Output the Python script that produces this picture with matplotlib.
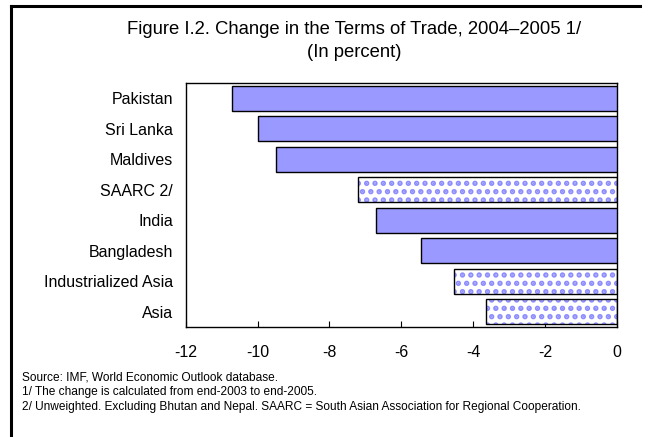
import numpy as np
import matplotlib.pyplot as plt
from matplotlib.lines import Line2D

plt.rcParams['font.family'] = ['Liberation Sans', 'DejaVu Sans']
plt.rcParams['hatch.linewidth'] = 2.6

categories = ['Pakistan', 'Sri Lanka', 'Maldives', 'SAARC 2/', 'India',
              'Bangladesh', 'Industrialized Asia', 'Asia']
values = [-10.7, -10.0, -9.5, -7.2, -6.7, -5.45, -4.55, -3.65]
aggregate = [False, False, False, True, False, False, True, True]
ticks = [-12, -10, -8, -6, -4, -2, 0]

fig = plt.figure(figsize=(6.49, 4.37), dpi=100)
ax = fig.add_axes([0.286, 0.252, 0.665, 0.558])

y = np.arange(len(categories))
for yi, v, agg in zip(y, values, aggregate):
    if agg:
        # dotted fill for aggregates
        ax.barh(yi, v, height=0.82, color='white', edgecolor='#8c8cff',
                hatch='..', linewidth=0, zorder=2)
        ax.barh(yi, v, height=0.82, color='none', edgecolor='black',
                linewidth=1.0, zorder=3)
    else:
        ax.barh(yi, v, height=0.82, color='#9999ff', edgecolor='black',
                linewidth=1.0, zorder=3)

ax.set_ylim(len(categories) - 0.5, -0.5)
ax.set_xlim(-12, 0)
ax.set_yticks(y)
ax.set_yticklabels(categories, fontsize=11.5)
ax.set_xticks(ticks)
ax.set_xticklabels([str(t) for t in ticks], fontsize=11.5)
ax.tick_params(axis='y', length=0, pad=9)
ax.tick_params(axis='x', direction='in', length=4, pad=13, width=0.8)
for s in ax.spines.values():
    s.set_linewidth(1.0)

fig.text(0.546, 0.932, 'Figure I.2. Change in the Terms of Trade, 2004\u20132005 1/',
         ha='center', va='center', fontsize=13.3)
fig.text(0.546, 0.881, '(In percent)', ha='center', va='center', fontsize=13.3)

notes = ['Source: IMF, World Economic Outlook database.',
         '1/ The change is calculated from end-2003 to end-2005.',
         '2/ Unweighted. Excluding Bhutan and Nepal. SAARC = South Asian Association for Regional Cooperation.']
for i, n in enumerate(notes):
    fig.text(22 / 649, 1 - (377 + 15 * i) / 437, n, ha='left', va='center', fontsize=8.6)

# outer frame (left and top edges)
fig.add_artist(Line2D([11 / 649, 11 / 649], [0, 1 - 6 / 437], color='black', lw=2.2,
                      transform=fig.transFigure))
fig.add_artist(Line2D([11 / 649, 640 / 649], [1 - 6 / 437, 1 - 6 / 437], color='black',
                      lw=2.2, transform=fig.transFigure))

fig.savefig('out.png', dpi=100)
